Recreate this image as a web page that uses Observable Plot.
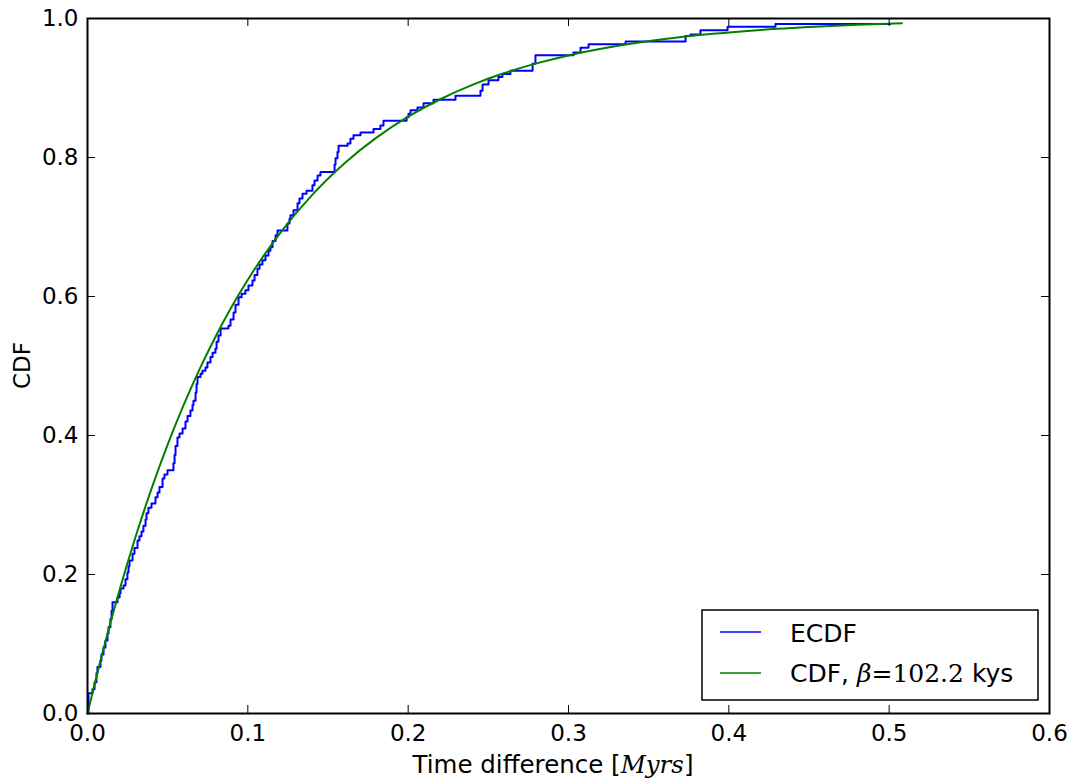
<!DOCTYPE html>
<html><head><meta charset="utf-8">
<script src="https://cdn.jsdelivr.net/npm/d3@7"></script>
<script src="https://cdn.jsdelivr.net/npm/@observablehq/plot@0.6"></script>
<style>body{margin:0;background:#fff} #chart{width:1075px;height:781px}</style>
</head><body><div id="chart"></div>
<script>
// ECDF step corners (time difference in Myrs, cumulative fraction)
const ecdfX = [0,0.0006,0.0031,0.0044,0.0056,0.0062,0.0081,0.0087,0.0100,0.0112,0.0125,0.0131,0.0143,0.0150,0.0156,0.0187,0.0200,0.0206,0.0225,0.0237,0.0249,0.0256,0.0262,0.0281,0.0293,0.0312,0.0324,0.0337,0.0349,0.0362,0.0368,0.0380,0.0399,0.0424,0.0437,0.0449,0.0468,0.0480,0.0499,0.0536,0.0543,0.0549,0.0561,0.0574,0.0593,0.0611,0.0624,0.0642,0.0655,0.0661,0.0674,0.0680,0.0686,0.0705,0.0717,0.0736,0.0748,0.0767,0.0780,0.0798,0.0805,0.0817,0.0830,0.0879,0.0892,0.0911,0.0923,0.0942,0.0961,0.0985,0.1004,0.1029,0.1042,0.1060,0.1073,0.1091,0.1110,0.1129,0.1141,0.1154,0.1173,0.1185,0.1247,0.1260,0.1266,0.1285,0.1310,0.1322,0.1341,0.1366,0.1403,0.1416,0.1435,0.1453,0.1541,0.1547,0.1559,0.1566,0.1622,0.1640,0.1659,0.1703,0.1784,0.1827,0.1846,0.1990,0.2002,0.2015,0.2058,0.2096,0.2158,0.2295,0.2451,0.2464,0.2501,0.2563,0.2588,0.2638,0.2776,0.2794,0.3031,0.3075,0.3125,0.3356,0.3730,0.3761,0.3823,0.3992,0.4291,0.5008];
const ecdfY = [0,0.029,0.035,0.045,0.058,0.067,0.076,0.085,0.095,0.105,0.115,0.124,0.136,0.148,0.160,0.167,0.173,0.180,0.184,0.193,0.203,0.212,0.220,0.230,0.238,0.249,0.255,0.262,0.270,0.279,0.288,0.296,0.302,0.311,0.318,0.326,0.338,0.344,0.350,0.360,0.372,0.385,0.397,0.403,0.410,0.420,0.428,0.436,0.444,0.450,0.462,0.474,0.484,0.489,0.493,0.498,0.505,0.513,0.519,0.525,0.535,0.544,0.554,0.558,0.567,0.577,0.588,0.599,0.604,0.609,0.616,0.623,0.631,0.640,0.646,0.652,0.659,0.666,0.671,0.680,0.688,0.695,0.705,0.712,0.717,0.724,0.734,0.741,0.748,0.752,0.760,0.767,0.774,0.779,0.790,0.799,0.808,0.817,0.820,0.827,0.832,0.836,0.841,0.846,0.853,0.858,0.863,0.868,0.872,0.878,0.883,0.889,0.896,0.905,0.911,0.916,0.920,0.925,0.935,0.947,0.951,0.958,0.963,0.967,0.975,0.977,0.983,0.988,0.992,0.992];
// Fitted CDF curve (beta = 102.2 kys)
const cdfX = [0,0.01,0.02,0.03,0.04,0.05,0.06,0.07,0.08,0.09,0.10,0.12,0.14,0.16,0.18,0.20,0.22,0.24,0.26,0.28,0.30,0.33,0.36,0.39,0.42,0.45,0.48,0.508];
const cdfY = [0,0.0932,0.1777,0.2543,0.3239,0.3869,0.4440,0.4959,0.5429,0.5855,0.6241,0.6909,0.7459,0.7910,0.8282,0.8587,0.8838,0.9045,0.9215,0.9354,0.9469,0.9604,0.9705,0.9780,0.9836,0.9878,0.9909,0.9931];
const xTicks = [0,0.1,0.2,0.3,0.4,0.5,0.6];
const yTicks = [0,0.2,0.4,0.6,0.8,1.0];
const seriesNames = ["ECDF","CDF"];
const seriesColors = ["#0000ff","#008000"];
const betaText = "102.2";

const W = 1075, H = 781, mL = 87, mR = 26, mT = 18, mB = 68;
const iw = W - mL - mR, ih = H - mT - mB;
const ecdf = ecdfX.map((x, i) => ({x, y: ecdfY[i]}));
const cdf = cdfX.map((x, i) => ({x, y: cdfY[i]}));
const fmt = d3.format(".1f");

const plot = Plot.plot({
  width: W, height: H,
  marginLeft: mL, marginRight: mR, marginTop: mT, marginBottom: mB,
  x: {domain: [0, 0.6]},
  y: {domain: [0, 1]},
  style: {fontFamily: "DejaVu Sans", fontSize: "23px", color: "#000", background: "#fff", overflow: "visible"},
  marks: [
    Plot.line(ecdf, {x: "x", y: "y", curve: "step-after", stroke: seriesColors[0], strokeWidth: 2}),
    Plot.line(cdf, {x: "x", y: "y", curve: "monotone-x", stroke: seriesColors[1], strokeWidth: 2}),
    Plot.tickX(xTicks, {x: d => d, insetTop: ih - 8, stroke: "#000"}),
    Plot.tickX(xTicks, {x: d => d, insetBottom: ih - 8, stroke: "#000"}),
    Plot.tickY(yTicks, {y: d => d, insetRight: iw - 8, stroke: "#000"}),
    Plot.tickY(yTicks, {y: d => d, insetLeft: iw - 8, stroke: "#000"}),
    Plot.frame({stroke: "#000", strokeWidth: 2}),
    Plot.axisX({ticks: xTicks, tickSize: 0, tickPadding: 11, tickFormat: fmt, label: null}),
    Plot.axisY({ticks: yTicks, tickSize: 0, tickPadding: 9, tickFormat: fmt, label: null})
  ]
});
document.getElementById("chart").appendChild(plot);

const svg = d3.select(plot);
// axis labels
const xl = svg.append("text").attr("x", 553).attr("y", 773)
  .attr("text-anchor", "middle").attr("font-family", "DejaVu Sans").attr("font-size", 24.5).attr("fill", "#000");
xl.append("tspan").text("Time difference [");
xl.append("tspan").attr("font-family", "DejaVu Serif").attr("font-style", "italic").text("Myrs");
xl.append("tspan").text("]");
svg.append("text").attr("transform", `translate(30,${mT + ih / 2}) rotate(-90)`)
  .attr("text-anchor", "middle").attr("font-family", "DejaVu Sans").attr("font-size", 23).attr("fill", "#000").text("CDF");

// legend
const lg = svg.append("g").attr("text-anchor", "start");
lg.append("rect").attr("x", 702).attr("y", 610).attr("width", 336).attr("height", 90)
  .attr("fill", "#fff").attr("stroke", "#000").attr("stroke-width", 1.5);
[632, 673].forEach((y, i) => {
  lg.append("line").attr("x1", 720).attr("x2", 761).attr("y1", y).attr("y2", y)
    .attr("stroke", seriesColors[i]).attr("stroke-width", 1.5);
});
lg.append("text").attr("x", 790).attr("y", 642).attr("text-anchor", "start")
  .attr("font-family", "DejaVu Sans").attr("font-size", 25).attr("fill", "#000").text(seriesNames[0]);
const t2 = lg.append("text").attr("x", 790).attr("y", 682).attr("text-anchor", "start")
  .attr("font-family", "DejaVu Sans").attr("font-size", 25).attr("fill", "#000");
t2.append("tspan").text(seriesNames[1] + ", ");
t2.append("tspan").attr("font-family", "DejaVu Serif").attr("font-style", "italic").text("β");
t2.append("tspan").attr("font-family", "DejaVu Serif").text("=" + betaText);
t2.append("tspan").text(" kys");
</script></body></html>
